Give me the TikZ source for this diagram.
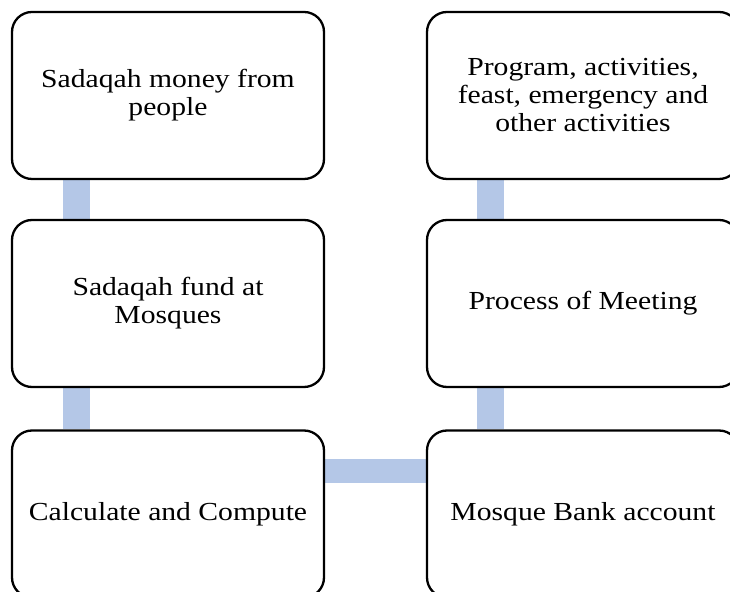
\documentclass[tikz,border=0pt]{standalone}
\usepackage{fontspec}
\usepackage{graphicx}
\setmainfont{Liberation Serif}
\pgfdeclarelayer{background}
\pgfsetlayers{background,main}
\newcommand\sx[1]{\scalebox{1.14}[1]{#1}}
\definecolor{barblue}{HTML}{B4C7E7}
\tikzset{
  box/.style={draw=black, fill=white, line width=2.3pt, rounded corners=20pt,
    minimum width=312pt, minimum height=167pt, align=center, inner sep=0pt,
    font=\fontsize{26}{28}\selectfont},
  bar/.style={draw=barblue, line width=27pt, line cap=butt},
  hbar/.style={draw=barblue, line width=24pt, line cap=butt}
}
\begin{document}
\begin{tikzpicture}[x=1pt,y=1pt]
\useasboundingbox (0,0) rectangle (730,591);
\node[box] (b1) at (168,495.5) {\sx{Sadaqah money from}\\\sx{people}};
\node[box] (b2) at (168,287.5) {\sx{Sadaqah fund at}\\\sx{Mosques}};
\node[box] (b3) at (168,77) {\sx{Calculate and Compute}};
\node[box] (r1) at (583,495.5) {\sx{Program, activities,}\\\sx{feast, emergency and}\\\sx{other activities}};
\node[box] (r2) at (583,287.5) {\sx{Process of Meeting}};
\node[box] (r3) at (583,77) {\sx{Mosque Bank account}};
\begin{pgfonlayer}{background}
\draw[bar] ([xshift=-92pt]b1.south) -- ([xshift=-92pt]b2.north);
\draw[bar] ([xshift=-92pt]b2.south) -- ([xshift=-92pt]b3.north);
\draw[bar] ([xshift=-92.5pt]r1.south) -- ([xshift=-92.5pt]r2.north);
\draw[bar] ([xshift=-92.5pt]r2.south) -- ([xshift=-92.5pt]r3.north);
\draw[hbar] ([yshift=43pt]b3.east) -- ([yshift=43pt]r3.west);
\end{pgfonlayer}
\end{tikzpicture}
\end{document}
